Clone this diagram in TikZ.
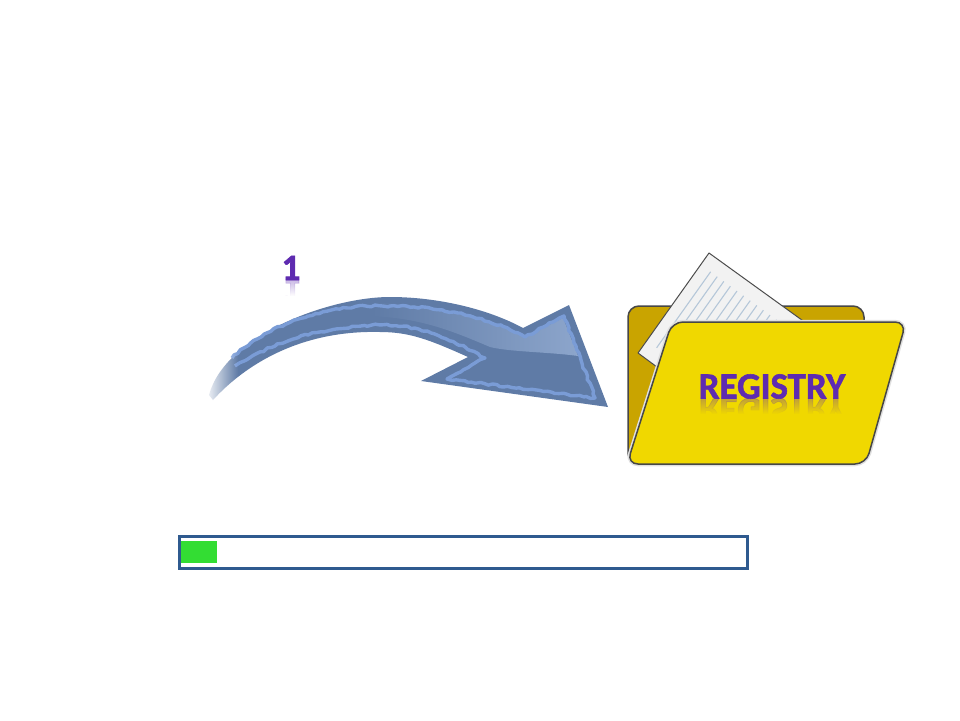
\documentclass[tikz,border=0pt]{standalone}
\usepackage{fontspec}
\setmainfont{Carlito}
\newfontfamily\titlefont[FakeBold=1.6]{Carlito Bold}
\usetikzlibrary{fadings,decorations.pathmorphing}

\begin{document}
\begin{tikzpicture}[
x=1pt,y=-1pt,
title/.style={text=purple1, font=\titlefont\fontsize{37}{37}\selectfont, inner sep=0pt},
mirror/.style={title, transform shape, yscale=-1, opacity=.3},
edgeline/.style={draw=black!72, line width=1.5pt, rounded corners=11pt, line join=round},
halo/.style={draw=black!12, line width=4.5pt, rounded corners=11pt},
jagged/.style={draw=blue2, line width=3.4pt, line join=round, decorate, decoration={random steps, segment length=4pt, amplitude=1pt}},
]
\definecolor{purple1}{HTML}{5E2BB0}
\definecolor{blue1}{HTML}{5F7BA6}
\definecolor{blue2}{HTML}{7A9CD6}
\definecolor{blue3}{HTML}{8DA6CC}
\definecolor{mustard}{HTML}{C9A400}
\definecolor{yellow1}{HTML}{F0D800}
\definecolor{frame1}{HTML}{2F5A8F}
\definecolor{green1}{HTML}{33DD33}
\definecolor{paperline}{HTML}{B5C7D9}

\useasboundingbox (0,0) rectangle (960,720);

% arrow
\fill[blue1] (209,395) .. controls (225,335) and (330,297) .. (390,297)
 .. controls (440,297) and (490,310) .. (523,328)
 -- (569,305) -- (608,407) -- (421,381) -- (468,357)
 .. controls (430,340) and (410,332) .. (380,332)
 .. controls (300,330) and (245,365) .. (213,400) -- cycle;
\fill[blue3, path fading=west] (370,303) .. controls (440,303) and (495,320) .. (525,337)
 -- (563,318) -- (578,356) .. controls (550,352) and (510,352) .. (490,347)
 .. controls (450,330) and (420,318) .. (370,316) -- cycle;
\draw[jagged] (232,358) .. controls (280,315) and (340,304) .. (390,306)
 .. controls (440,306) and (490,318) .. (525,337)
 -- (564,316) -- (595,398) -- (447,379) -- (485,358)
 .. controls (440,333) and (410,324) .. (380,325)
 .. controls (330,326) and (280,338) .. (235,366);
\fill[white, path fading=east] (204,352) rectangle (238,405);

% number
\node[title] (num) at (291,268) {1};
\node[mirror] (numr) at (291,292) {1};
\fill[white, path fading=north] (280,281) rectangle (302,296);
\fill[white] (280,296) rectangle (302,306);

% folder
\draw[edgeline, fill=mustard] (628,464) -- (628,306) -- (864,306) -- (864,330) -- (840,464) -- cycle;
\draw[draw=black!70, line width=1pt, fill=black!5, line join=round]
 (709,253) -- (806,323) -- (657,367) -- (638,353) -- cycle;
\begin{scope}
\clip (709,253) -- (806,323) -- (657,367) -- (638,353) -- cycle;
\foreach \k in {1,...,13}
  \draw[paperline, line width=1.1pt, shift={(\k*6.6,\k*4.8)}] (704,267) -- (650,343);
\end{scope}
\draw[halo] (627,464) -- (672,322) -- (906,322) -- (866,464) -- cycle;
\draw[edgeline, fill=yellow1] (627,464) -- (672,322) -- (906,322) -- (866,464) -- cycle;

\node[title] (reg) at (772,386.5) {REGISTRY};
\node[mirror] (regr) at (772,410) {REGISTRY};
\fill[yellow1, path fading=north] (695,399) rectangle (850,414);
\fill[yellow1] (695,414) rectangle (850,425);

% progress bar
\draw[draw=frame1, line width=2.6pt] (179.5,536.5) rectangle (747.5,568.5);
\fill[green1] (181,541) rectangle (217,563);
\end{tikzpicture}
\end{document}
